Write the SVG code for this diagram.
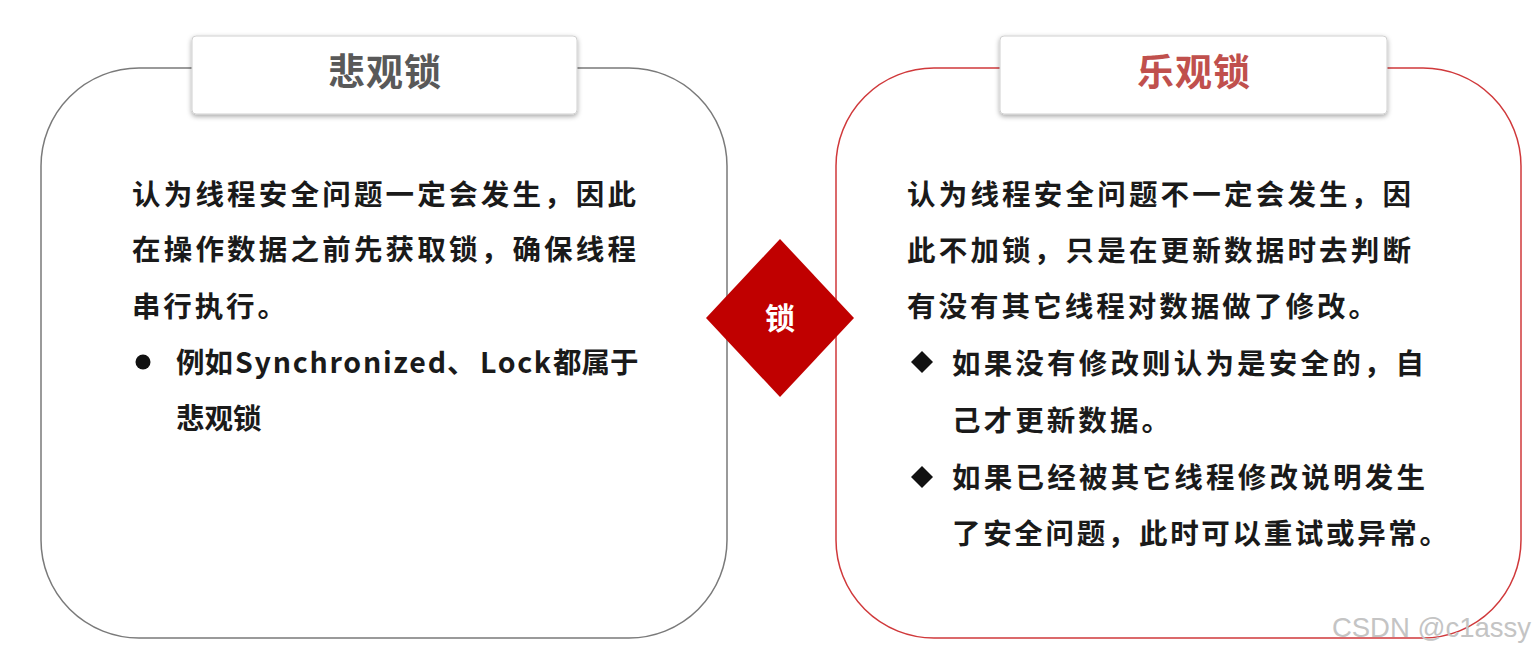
<svg xmlns="http://www.w3.org/2000/svg" width="1536" height="653" viewBox="0 0 1536 653">
<style>
.body{font-family:"Noto Sans CJK SC","Noto Sans",sans-serif;font-weight:bold;font-size:28.5px;fill:#1a1a1a}
.title{font-family:"Noto Sans CJK SC",sans-serif;font-weight:bold;font-size:37px;text-anchor:middle;letter-spacing:1px}
.label{fill:#ffffff;stroke:#d0d0d0;stroke-width:1}
</style>
<defs>
<filter id="sh" x="-10%" y="-30%" width="120%" height="160%">
<feDropShadow dx="0" dy="2" stdDeviation="2.5" flood-color="#000" flood-opacity="0.35"/>
</filter>
</defs>
<rect width="1536" height="653" fill="#ffffff"/>
<g id="pessimistic">
<rect x="41" y="68" width="686" height="570" rx="98" ry="98" fill="#ffffff" stroke="#7a7a7a" stroke-width="1.5"/>
<rect class="label" x="192" y="36" width="385" height="78" rx="4" filter="url(#sh)"/>
<text class="title" x="385" y="86" fill="#595959">悲观锁</text>
<text class="body" x="132" y="205" textLength="504" lengthAdjust="spacing">认为线程安全问题一定会发生，因此</text>
<text class="body" x="132" y="260" textLength="504" lengthAdjust="spacing">在操作数据之前先获取锁，确保线程</text>
<text class="body" x="132" y="317" textLength="154" lengthAdjust="spacing">串行执行。</text>
<circle cx="143" cy="362" r="7.5" fill="#111"/>
<text class="body" x="176" y="373"><tspan x="176">例如</tspan><tspan x="235" textLength="211" lengthAdjust="spacing">Synchronized</tspan><tspan x="447">、</tspan><tspan x="480" textLength="71" lengthAdjust="spacing">Lock</tspan><tspan x="553">都属于</tspan></text>
<text class="body" x="176" y="429">悲观锁</text>
</g>
<g id="optimistic">
<rect x="836" y="68" width="685" height="570" rx="98" ry="98" fill="#ffffff" stroke="#d0393b" stroke-width="1.5"/>
<rect class="label" x="1000" y="36" width="387" height="78" rx="4" filter="url(#sh)"/>
<text class="title" x="1194" y="86" fill="#c0504d">乐观锁</text>
<text class="body" x="907" y="205" textLength="504" lengthAdjust="spacing">认为线程安全问题不一定会发生，因</text>
<text class="body" x="907" y="261" textLength="504" lengthAdjust="spacing">此不加锁，只是在更新数据时去判断</text>
<text class="body" x="907" y="317" textLength="470" lengthAdjust="spacing">有没有其它线程对数据做了修改。</text>
<polygon points="922,351 933,362 922,373 911,362" fill="#111"/>
<text class="body" x="952" y="374" textLength="472" lengthAdjust="spacing">如果没有修改则认为是安全的，自</text>
<text class="body" x="952" y="431" textLength="218" lengthAdjust="spacing">己才更新数据。</text>
<polygon points="922,466 933,477 922,488 911,477" fill="#111"/>
<text class="body" x="952" y="488" textLength="473" lengthAdjust="spacing">如果已经被其它线程修改说明发生</text>
<text class="body" x="952" y="544" textLength="496" lengthAdjust="spacing">了安全问题，此时可以重试或异常。</text>
</g>
<g id="lock">
<polygon points="780,239 854,318 780,397 706,318" fill="#c00000"/>
<text x="780" y="329" text-anchor="middle" font-family="Noto Sans CJK SC,sans-serif" font-weight="bold" font-size="30" fill="#ffffff">锁</text>
</g>
<g id="connectors"></g>
<text x="1531" y="637" text-anchor="end" font-family="Liberation Sans,Arial,sans-serif" font-size="27.5" fill="#c4c4c4">CSDN @c1assy</text>
</svg>
